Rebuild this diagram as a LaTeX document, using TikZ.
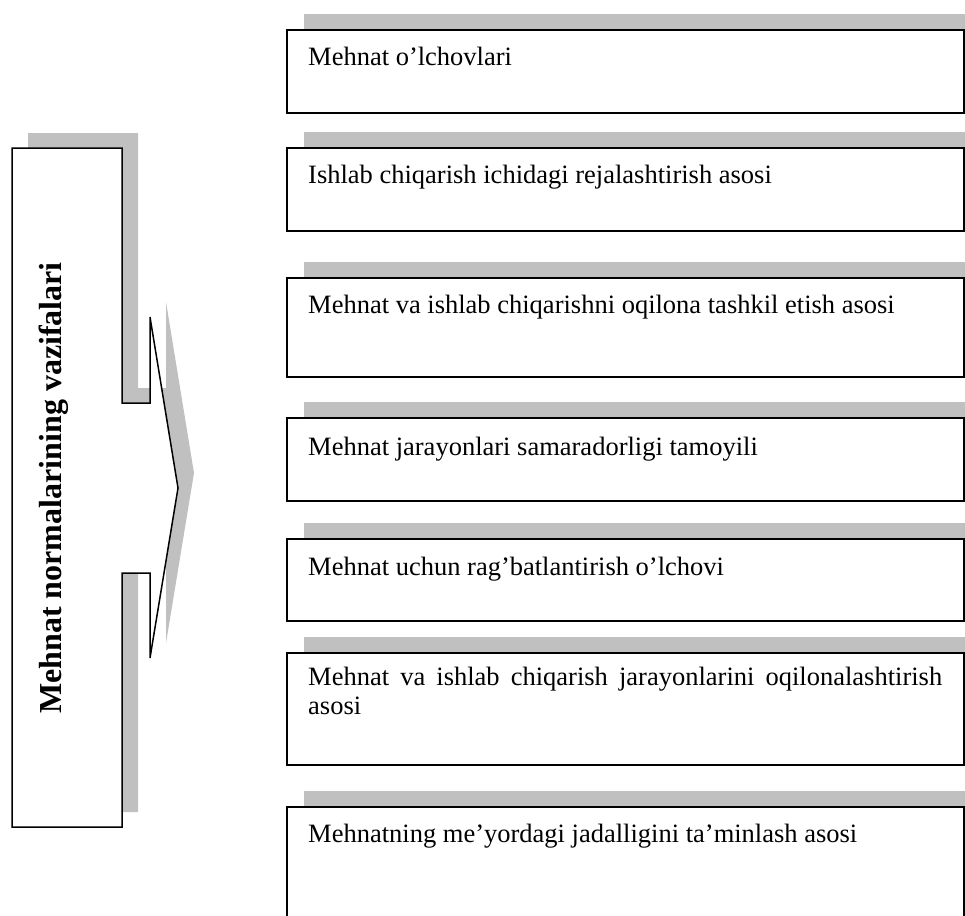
\documentclass[tikz,border=0pt]{standalone}
\usepackage{fontspec}
\setmainfont{Liberation Serif}
\usetikzlibrary{shadows}
\definecolor{shadegray}{RGB}{192,192,192}
\begin{document}
\begin{tikzpicture}[x=1pt,y=-1pt,
  fnbox/.style={draw=black, line width=1.5pt, fill=white, rectangle,
    anchor=north west, inner sep=0pt, outer sep=0pt, minimum width=677pt,
    drop shadow={shadow xshift=17pt, shadow yshift=16pt, fill=shadegray, opacity=1}},
  fntext/.style={anchor=base west, inner sep=0pt, font=\fontsize{26.5}{30}\selectfont},
  outline/.style={draw=black, line width=1.5pt, fill=white, line join=miter},
]
\useasboundingbox (0,0) rectangle (965,915);
% left shape with shadow
\fill[shadegray, shift={(16,-15)}] (12,148) -- (122,148) -- (122,403) -- (150,403) -- (150,317) -- (178,488) -- (150,658) -- (150,573) -- (122,573) -- (122,827) -- (12,827) -- cycle;
\draw[outline] (12,148) -- (122,148) -- (122,403) -- (150,403) -- (150,317) -- (178,488) coordinate (apex) -- (150,658) -- (150,573) -- (122,573) -- (122,827) -- (12,827) -- cycle;
\node[rotate=90, anchor=base, inner sep=0pt, font=\bfseries\fontsize{32}{36}\selectfont] (title) at (61,488) {Mehnat normalarining vazifalari};
% right boxes
\node[fnbox, minimum height=83pt] (b1) at (287,30) {};
\node[fnbox, minimum height=83pt] (b2) at (287,148) {};
\node[fnbox, minimum height=99pt] (b3) at (287,278) {};
\node[fnbox, minimum height=83pt] (b4) at (287,418) {};
\node[fnbox, minimum height=82pt] (b5) at (287,539) {};
\node[fnbox, minimum height=112pt] (b6) at (287,653) {};
\node[fnbox, minimum height=130pt] (b7) at (287,807) {};
\node[fntext] (t1) at (308,66) {Mehnat o’lchovlari};
\node[fntext] (t2) at (308,183) {Ishlab chiqarish ichidagi rejalashtirish asosi};
\node[fntext] (t3) at (308,313) {Mehnat va ishlab chiqarishni oqilona tashkil etish asosi};
\node[fntext] (t4) at (308,455) {Mehnat jarayonlari samaradorligi tamoyili};
\node[fntext] (t5) at (308,575) {Mehnat uchun rag’batlantirish o’lchovi};
\node[fntext] (t6) at (308,685) {\hbox to 634pt{Mehnat va ishlab chiqarish jarayonlarini oqilonalashtirish}};
\node[fntext] (t6b) at (308,714) {asosi};
\node[fntext] (t7) at (308,842) {Mehnatning me’yordagi jadalligini ta’minlash asosi};
\end{tikzpicture}
\end{document}
